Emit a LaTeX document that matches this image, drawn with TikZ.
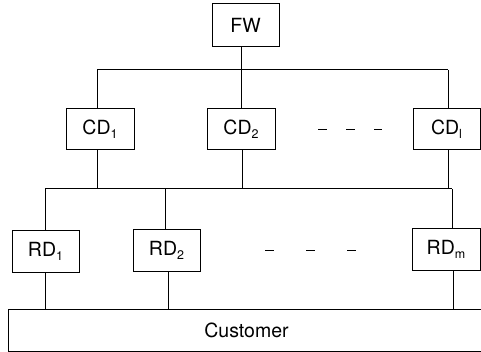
\documentclass[tikz,border=0pt]{standalone}
\usepackage{fontspec}
\setmainfont{TeX Gyre Heros}
\newcommand\mysub[1]{\raisebox{-0.4ex}{\fontsize{12.5}{12.5}\selectfont #1}}
\tikzset{
  unit/.style={draw, line width=1pt, inner sep=0pt, font=\fontsize{19.5}{19.5}\selectfont},
  link/.style={line width=1pt},
  etc/.style={line width=1pt, dash pattern=on 8.5pt off 19.5pt}
}
\begin{document}
\begin{tikzpicture}[x=1pt,y=-1pt]
\useasboundingbox (0,0) rectangle (481,352);
% boxes
\node[unit, minimum width=67pt, minimum height=43pt] (FW) at (245.5,25.5) {FW};
\node[unit, minimum width=68pt, minimum height=41pt] (CD1) at (100,129.5) {CD\mysub{1}};
\node[unit, minimum width=68pt, minimum height=41pt] (CD2) at (241,129.5) {CD\mysub{2}};
\node[unit, minimum width=67pt, minimum height=41pt] (CDl) at (446.5,129.5) {CD\mysub{l}};
\node[unit, minimum width=67pt, minimum height=41pt] (RD1) at (45.5,251.5) {RD\mysub{1}};
\node[unit, minimum width=67pt, minimum height=41pt] (RD2) at (166.5,250.5) {RD\mysub{2}};
\node[unit, minimum width=68pt, minimum height=41pt] (RDm) at (446,249.5) {RD\mysub{m}};
\node[unit, minimum width=477pt, minimum height=42pt] (C) at (246.5,330) {Customer};
% bus coordinates
\coordinate (busA) at (97,70);
\coordinate (busAe) at (448,70);
\coordinate (busB) at (45,189);
\coordinate (busBe) at (452,189);
% top bus
\draw[link] (busA) -- (busAe);
\draw[link] ([xshift=-4.5pt]FW.south) -- ([xshift=-4.5pt]FW.south |- busA);
\draw[link] ([xshift=-3pt]CD1.north |- busA) -- ([xshift=-3pt]CD1.north);
\draw[link] (CD2.north |- busA) -- (CD2.north);
\draw[link] ([xshift=1.5pt]CDl.north |- busA) -- ([xshift=1.5pt]CDl.north);
% CD down to second bus
\draw[link] ([xshift=-3pt]CD1.south) -- ([xshift=-3pt]CD1.south |- busB);
\draw[link] ([xshift=1pt]CD2.south) -- ([xshift=1pt]CD2.south |- busB);
\draw[link] ([xshift=1.5pt]CDl.south) -- ([xshift=1.5pt]CDl.south |- busB);
% second bus
\draw[link] (busB) -- (busBe);
\draw[link] ([xshift=-0.5pt]RD1.north |- busB) -- ([xshift=-0.5pt]RD1.north);
\draw[link] ([xshift=-1.5pt]RD2.north |- busB) -- ([xshift=-1.5pt]RD2.north);
\draw[link] ([xshift=6pt]RDm.north |- busB) -- ([xshift=6pt]RDm.north);
% RD down to customer
\draw[link] ([xshift=-0.5pt]RD1.south) -- ([xshift=-0.5pt]RD1.south |- C.north);
\draw[link] ([xshift=1.5pt]RD2.south) -- ([xshift=1.5pt]RD2.south |- C.north);
\draw[link] ([xshift=7pt]RDm.south) -- ([xshift=7pt]RDm.south |- C.north);
% ellipses
\coordinate (dA) at (318,130);
\coordinate (dAe) at (382,130);
\draw[etc] (dA) -- (dAe);
\coordinate (dB) at (265,251);
\coordinate (dBe) at (357,251);
\draw[etc, dash pattern=on 9pt off 32pt] (dB) -- (dBe);
\end{tikzpicture}
\end{document}
